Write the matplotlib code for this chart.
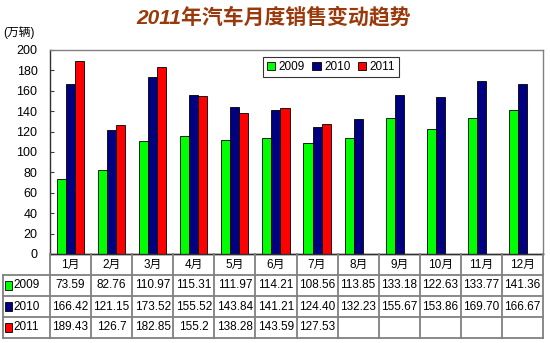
import numpy as np
import matplotlib
matplotlib.use('Agg')
import matplotlib.pyplot as plt
from matplotlib.patches import Rectangle

plt.rcParams['font.family'] = ['Liberation Sans', 'Noto Sans CJK SC', 'DejaVu Sans']

months = ['1月', '2月', '3月', '4月', '5月', '6月', '7月', '8月', '9月', '10月', '11月', '12月']
years = ['2009', '2010', '2011']

# monthly sales, 10k vehicles (kept as the printed table strings)
sales_2009 = ['73.59', '82.76', '110.97', '115.31', '111.97', '114.21',
              '108.56', '113.85', '133.18', '122.63', '133.77', '141.36']
sales_2010 = ['166.42', '121.15', '173.52', '155.52', '143.84', '141.21',
              '124.40', '132.23', '155.67', '153.86', '169.70', '166.67']
sales_2011 = ['189.43', '126.7', '182.85', '155.2', '138.28', '143.59', '127.53']

colors = ['#00ff00', '#000080', '#ff0000']
grid_gray = '#808080'

W, H = 550, 343
fig = plt.figure(figsize=(5.5, 3.43), dpi=100)

# chart area in pixel coords: x 50..543, y 50..254 (from top)
ax = fig.add_axes([50 / W, (H - 254) / H, 493 / W, 204 / H])
x = np.arange(len(months))
bw = 0.22
for k, series in enumerate([sales_2009, sales_2010, sales_2011]):
    vals = [float(s) for s in series]
    ax.bar(x[:len(vals)] + (k - 1) * bw, vals, width=bw, color=colors[k],
           edgecolor='black', linewidth=0.6, zorder=3)

ax.set_xlim(-0.5, 11.5)
ax.set_ylim(0, 200)
ax.set_yticks(range(0, 201, 20))
ax.set_xticks([])
ax.tick_params(axis='y', labelsize=9, length=3, direction='in', color='#404040', pad=9)
for sp in ax.spines.values():
    sp.set_color(grid_gray)
    sp.set_linewidth(1)
ax.spines['left'].set_color('#303030')
ax.spines['bottom'].set_color('#303030')

handles = [Rectangle((0, 0), 1, 1, facecolor=c, edgecolor='black', linewidth=0.6) for c in colors]
leg = ax.legend(handles, years, loc='upper left', bbox_to_anchor=(0.432, 0.965),
                ncol=3, fontsize=8.5, frameon=True, fancybox=False,
                handlelength=0.7, handleheight=0.7, handletextpad=0.3,
                columnspacing=0.6, borderpad=0.35, borderaxespad=0)
leg.get_frame().set_edgecolor('black')
leg.get_frame().set_linewidth(0.8)

fig.text(274 / W, 1 - 17 / H, '2011年汽车月度销售变动趋势', ha='center', va='center',
         fontsize=15, fontweight='bold', style='italic', color='#9a3a0c')
fig.text(3 / W, 1 - 33 / H, '(万辆)', ha='left', va='center', fontsize=8.5)

# data table below the chart, same x scale as the bars
tab = fig.add_axes([50 / W, 5 / H, 493 / W, 84 / H])
tab.set_xlim(-0.5, 11.5)
tab.set_ylim(0, 4)
tab.axis('off')
left_edge = -0.5 - 47 / 493 * 12
lw = 1.3

# horizontal lines
tab.plot([-0.5, 11.5], [4, 4], color='#303030', lw=1, clip_on=False)
for yy in [0, 1, 2, 3]:
    tab.plot([left_edge, 11.5], [yy, yy], color=grid_gray, lw=lw, clip_on=False)
# vertical lines
for xx in np.arange(-0.5, 12, 1.0):
    tab.plot([xx, xx], [0, 4], color=grid_gray, lw=lw, clip_on=False)
tab.plot([left_edge, left_edge], [0, 3], color=grid_gray, lw=lw, clip_on=False)

for i, m in enumerate(months):
    tab.text(i, 3.5, m, ha='center', va='center', fontsize=8.5)

rows = [sales_2009, sales_2010, sales_2011]
for r, (yr, series) in enumerate(zip(years, rows)):
    yc = 2.5 - r
    tab.add_patch(Rectangle((left_edge + 0.05, yc - 0.2), 0.16, 0.4, facecolor=colors[r],
                            edgecolor='black', linewidth=0.6, clip_on=False))
    tab.text(left_edge + 0.25, yc, yr, ha='left', va='center', fontsize=8.5, clip_on=False)
    for i, s in enumerate(series):
        tab.text(i, yc, s, ha='center', va='center', fontsize=8.5)

fig.savefig('out.png', dpi=100)
